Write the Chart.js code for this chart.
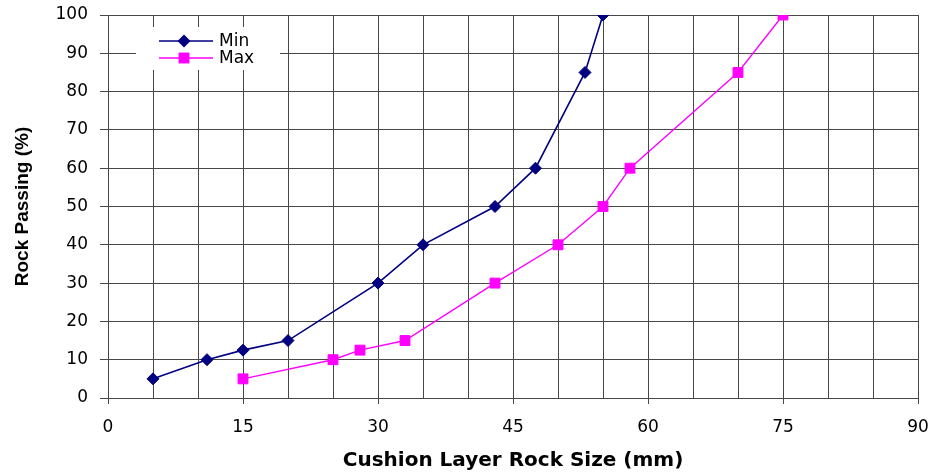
<!DOCTYPE html>
<html>
<head>
<meta charset="utf-8">
<script src="https://cdn.jsdelivr.net/npm/chart.js@4/dist/chart.umd.min.js"></script>
<style>
  html, body { margin: 0; padding: 0; background: #fff; }
  #wrap { width: 932px; height: 474px; }
</style>
</head>
<body>
<div id="wrap"><canvas id="grafico"></canvas></div>
<script>
/* global Chart */
// Curvas granulometricas - tamanho (mm) x % passante
const minSize = [5, 11, 15, 20, 30, 35, 43, 47.5, 53, 55];
const minPassing = [5, 10, 12.5, 15, 30, 40, 50, 60, 85, 100];
const maxSize = [15, 25, 28, 33, 43, 50, 55, 58, 70, 75];
const maxPassing = [5, 10, 12.5, 15, 30, 40, 50, 60, 85, 100];
const seriesNames = ['Min', 'Max'];
const xTitle = 'Cushion Layer Rock Size (mm)';
const yTitle = 'Rock Passing (%)';

const GRID = '#474747';
const TICK_FONT = '"DejaVu Sans", sans-serif';
const toPoints = (xs, ys) => xs.map((x, i) => ({ x, y: ys[i] }));

// legenda desenhada dentro da area do grafico, com fundo branco
const legendaInterna = {
  id: 'legendaInterna',
  afterDatasetsDraw(chart) {
    const { ctx, chartArea } = chart;
    const left = chartArea.left + 28, top = chartArea.top + 12;
    ctx.save();
    ctx.fillStyle = '#fff';
    ctx.fillRect(left, top, 144, 43);
    chart.data.datasets.forEach((ds, i) => {
      const yy = top + 14 + i * 17;
      ctx.strokeStyle = ds.borderColor;
      ctx.lineWidth = ds.borderWidth;
      ctx.beginPath();
      ctx.moveTo(left + 23, yy);
      ctx.lineTo(left + 77, yy);
      ctx.stroke();
      const cx = left + 48;
      ctx.fillStyle = ds.pointBackgroundColor;
      ctx.beginPath();
      if (ds.pointStyle === 'rectRot') {
        const r = ds.pointRadius + 0.5;
        ctx.moveTo(cx, yy - r); ctx.lineTo(cx + r, yy); ctx.lineTo(cx, yy + r); ctx.lineTo(cx - r, yy);
        ctx.closePath();
      } else {
        const s = ds.pointRadius * Math.SQRT1_2 + 0.5;
        ctx.rect(cx - s, yy - s, 2 * s, 2 * s);
      }
      ctx.fill();
      ctx.fillStyle = '#000';
      ctx.font = '17px ' + TICK_FONT;
      ctx.textBaseline = 'middle';
      ctx.fillText(ds.label, left + 83, yy + 1);
    });
    ctx.restore();
  }
};

new Chart(document.getElementById('grafico'), {
  type: 'line',
  data: {
    datasets: [
      {
        label: seriesNames[0],
        data: toPoints(minSize, minPassing),
        borderColor: '#000080',
        backgroundColor: '#000080',
        pointBackgroundColor: '#000080',
        pointBorderColor: '#000080',
        borderWidth: 1.6,
        pointStyle: 'rectRot',
        pointRadius: 6,
        pointBorderWidth: 1,
        tension: 0,
        fill: false
      },
      {
        label: seriesNames[1],
        data: toPoints(maxSize, maxPassing),
        borderColor: '#ff00ff',
        backgroundColor: '#ff00ff',
        pointBackgroundColor: '#ff00ff',
        pointBorderColor: '#ff00ff',
        borderWidth: 1.4,
        pointStyle: 'rect',
        pointRadius: 7,
        pointBorderWidth: 1,
        tension: 0,
        fill: false
      }
    ]
  },
  options: {
    responsive: true,
    maintainAspectRatio: false,
    animation: false,
    layout: { padding: { top: 15, right: 14, left: 0, bottom: 0 } },
    plugins: { legend: { display: false }, tooltip: { enabled: false } },
    scales: {
      x: {
        type: 'linear', min: 0, max: 90,
        afterFit: s => { s.height = 76; s.paddingLeft = 0; s.paddingRight = 0; },
        ticks: {
          stepSize: 5, autoSkip: false, maxRotation: 0, padding: 13,
          color: '#000',
          font: { family: TICK_FONT, size: 17 },
          callback: v => (v % 15 === 0 ? v : '')
        },
        grid: {
          color: GRID, lineWidth: 1, tickLength: 6,
          tickColor: c => (c.tick && c.tick.value % 15 === 0 ? GRID : 'rgba(0,0,0,0)')
        },
        border: { display: true, color: GRID },
        title: {
          display: true, text: xTitle, color: '#000',
          font: { family: '"DejaVu Sans", sans-serif', size: 20, weight: 'bold' },
          padding: { top: 0, bottom: 1 }
        }
      },
      y: {
        min: 0, max: 100,
        afterFit: s => { s.width = 108; s.paddingTop = 0; s.paddingBottom = 0; },
        ticks: {
          stepSize: 10, padding: 12, color: '#000',
          font: { family: TICK_FONT, size: 17 }
        },
        grid: { color: GRID, lineWidth: 1, tickLength: 8 },
        border: { display: true, color: GRID },
        title: {
          display: true, text: yTitle, color: '#000',
          font: { family: '"Liberation Sans", Arial, sans-serif', size: 19, weight: 'bold' },
          padding: { top: 11, bottom: 0 }
        }
      }
    }
  },
  plugins: [legendaInterna]
});
</script>
</body>
</html>
